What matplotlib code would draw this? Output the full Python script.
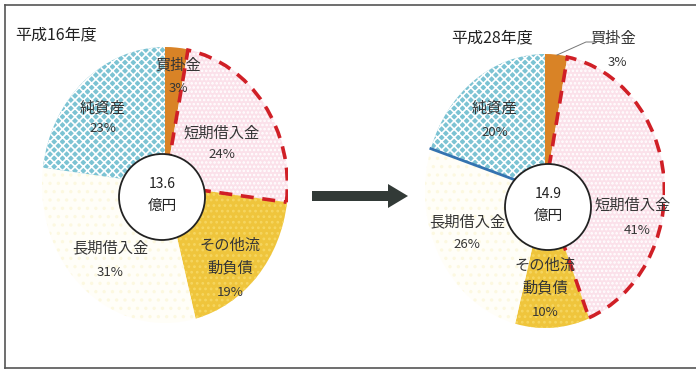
import numpy as np
import matplotlib
matplotlib.use("Agg")
import matplotlib.pyplot as plt
from matplotlib.patches import Wedge, Ellipse, FancyArrow

plt.rcParams['font.family'] = ['Noto Sans CJK JP', 'DejaVu Sans']
plt.rcParams['hatch.linewidth'] = 1.2

# 負債・純資産の構成比 (%)
categories = ['買掛金', '短期借入金', 'その他流\n動負債', '長期借入金', '純資産']
share_h16 = [3, 24, 19, 31, 23]
share_h28 = [3, 41, 10, 26, 20]
totals = [13.6, 14.9]
years = ['平成16年度', '平成28年度']

face = ['#d98326', '#fbe1ea', '#efc53c', '#fffef8', '#7cc3d3']
hatch_col = ['#d98326', '#ffffff', '#f6d660', '#fcf8e0', '#ffffff']
hatches = [None, '....', '...', '..', 'xxxx']

W, H = 696, 370
fig = plt.figure(figsize=(W / 100, H / 100), dpi=100)

# pie geometry in pixels: centre, x radius, y radius, inner circle centre
pies = [
    dict(cx=165, cy=185, rx=123, ry=138, icx=162, icy=197, ir=43),
    dict(cx=545, cy=191, rx=120, ry=137, icx=548, icy=207, ir=43),
]


def draw_pie(geo, shares, total, divider=False):
    ax = fig.add_axes([(geo['cx'] - geo['rx']) / W, 1 - (geo['cy'] + geo['ry']) / H,
                       2 * geo['rx'] / W, 2 * geo['ry'] / H])
    wedges, _ = ax.pie(shares, colors=face, startangle=90, counterclock=False,
                       radius=1, wedgeprops=dict(linewidth=0))
    # stretch to the axes box so the pie becomes slightly oval
    ax.set_aspect('auto')
    ax.set_xlim(-1, 1)
    ax.set_ylim(-1, 1)
    ax.axis('off')
    for w, hc, h in zip(wedges, hatch_col, hatches):
        if h:
            w.set_hatch(h)
            w.set_edgecolor(hc)
            w.set_linewidth(0)
    # dashed outline round the short-term borrowing slice
    cum = np.cumsum([0] + shares) / 100.0
    t1 = 90 - 360 * cum[2]
    t2 = 90 - 360 * cum[1]
    ax.add_patch(Wedge((0, 0), 0.995, t1, t2, fill=False, ec='#d01f26', lw=2.6,
                       ls=(0, (3.6, 2.4)), zorder=4))
    if divider:
        a = np.deg2rad(90 - 360 * cum[4])
        ax.plot([0, np.cos(a)], [0, np.sin(a)], color='#3473b0', lw=2, zorder=4)
    ax.add_patch(Ellipse(((geo['icx'] - geo['cx']) / geo['rx'],
                          -(geo['icy'] - geo['cy']) / geo['ry']),
                         2 * geo['ir'] / geo['rx'], 2 * geo['ir'] / geo['ry'],
                         fc='white', ec='#222222', lw=1.3, zorder=5))


draw_pie(pies[0], share_h16, totals[0])
draw_pie(pies[1], share_h28, totals[1], divider=True)

# overlay in pixel coordinates for text, frame and arrow
ov = fig.add_axes([0, 0, 1, 1])
ov.set_xlim(0, W)
ov.set_ylim(H, 0)
ov.axis('off')

frame = dict(color='#555555', lw=1.2)
ov.plot([5, W + 2], [5, 5], **frame)
ov.plot([5, 5], [5, 368], **frame)
ov.plot([5, W + 2], [368, 368], **frame)

ov.add_patch(FancyArrow(312, 196, 96, 0, width=10, head_width=24, head_length=20,
                        length_includes_head=True, color='#323a37', lw=0))

txt = '#363636'
ov.text(15, 35, years[0], fontsize=11.5, color='#222222', ha='left', va='center')
ov.text(492, 38, years[1], fontsize=11.5, color='#222222', ha='center', va='center')

for geo, total in zip(pies, totals):
    ov.text(geo['icx'], geo['icy'] - 13, f'{total}', fontsize=10, color='#222222',
            ha='center', va='center')
    ov.text(geo['icx'], geo['icy'] + 9, '億円', fontsize=10.5, color='#222222',
            ha='center', va='center')

label_pos = [
    [(178, 65, 88), (222, 133, 155), (230, 245, 292), (110, 248, 273), (103, 108, 128)],
    [(613, 38, 62), (633, 205, 230), (545, 265, 313), (467, 222, 245), (495, 108, 133)],
]
for shares, positions in zip([share_h16, share_h28], label_pos):
    for name, val, (x, yn, yp) in zip(categories, shares, positions):
        lines = name.split('\n')
        for k, line in enumerate(lines):
            ov.text(x, yn + 23 * k, line, fontsize=11, color=txt, ha='center', va='center')
        ov.text(x + (4 if x > 600 else 0), yp, f'{val}%', fontsize=9.5, color=txt,
                ha='center', va='center')

# leader line for the small payable slice
ov.plot([557, 586, 594], [55, 42, 42], color='#777777', lw=0.7)

fig.savefig('out.png', dpi=100)
